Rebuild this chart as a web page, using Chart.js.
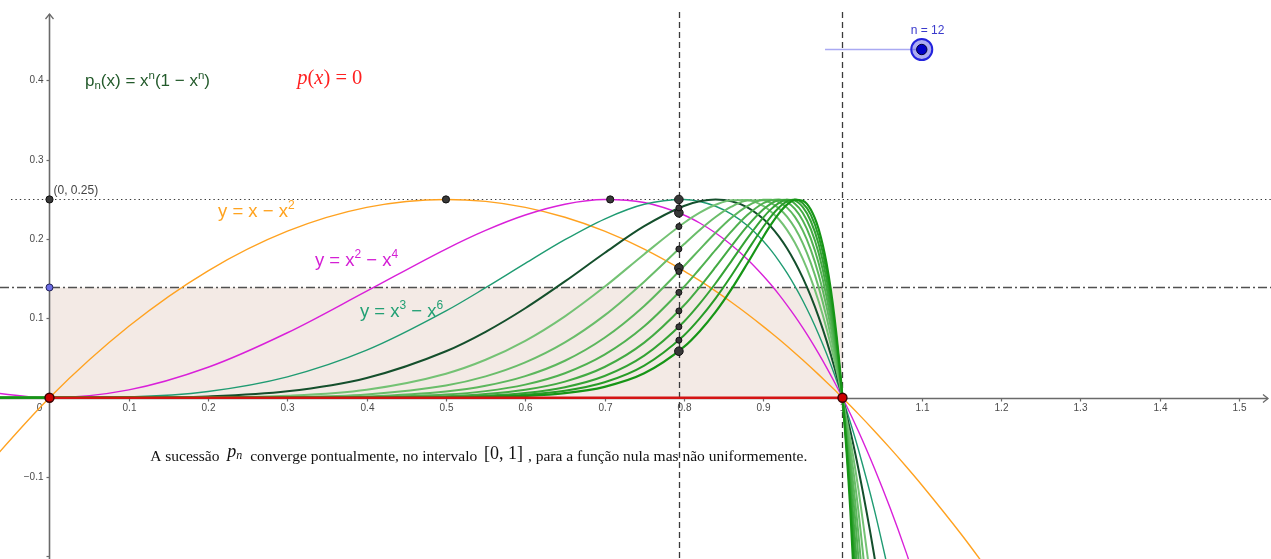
<!DOCTYPE html>
<html>
<head>
<meta charset="utf-8">
<title>pn(x) = x^n(1 - x^n)</title>
<script src="https://cdn.jsdelivr.net/npm/chart.js@4/dist/chart.umd.min.js"></script>
<style>
  html, body { margin: 0; padding: 0; background: #ffffff; overflow: hidden; }
  #c { display: block; }
</style>
</head>
<body>
<canvas id="c" width="1271" height="559"></canvas>
<script>
// Sample abscissae shared by every curve
const xs = [-0.1, 0, 0.1, 0.2, 0.3, 0.4, 0.5, 0.55, 0.6, 0.65, 0.7, 0.75, 0.8, 0.82, 0.84, 0.86, 0.88,
            0.9, 0.91, 0.92, 0.93, 0.94, 0.95, 0.96, 0.97, 0.98, 0.99, 1.0, 1.01, 1.02, 1.04, 1.06,
            1.08, 1.1, 1.15, 1.2];

// p_n(x) = x^n (1 - x^n), sampled at xs (each list stops once the curve has left the view)
const p1 = [-0.11, 0, 0.09, 0.16, 0.21, 0.24, 0.25, 0.2475, 0.24, 0.2275, 0.21, 0.1875, 0.16, 0.1476, 0.1344,
            0.1204, 0.1056, 0.09, 0.0819, 0.0736, 0.0651, 0.0564, 0.0475, 0.0384, 0.0291, 0.0196, 0.0099, 0,
            -0.0101, -0.0204, -0.0416, -0.0636, -0.0864, -0.11, -0.1725, -0.24];
const p2 = [0.0099, 0, 0.0099, 0.0384, 0.0819, 0.1344, 0.1875, 0.2110, 0.2304, 0.2440, 0.2499, 0.2461, 0.2304,
            0.2203, 0.2077, 0.1926, 0.1747, 0.1539, 0.1424, 0.1300, 0.1168, 0.1029, 0.0880, 0.0723, 0.0556,
            0.0380, 0.0195, 0, -0.0205, -0.0420, -0.0883, -0.1389, -0.1941, -0.2541];
const p3 = [-0.001, 0, 0.001, 0.0079, 0.0263, 0.0599, 0.1094, 0.1387, 0.1693, 0.1992, 0.2253, 0.2439, 0.2499,
            0.2474, 0.2414, 0.2315, 0.2171, 0.1976, 0.1857, 0.1723, 0.1574, 0.1407, 0.1223, 0.1020, 0.0797,
            0.0553, 0.0288, 0, -0.0312, -0.0650, -0.1405, -0.2275];
const p4 = [0.0001, 0, 0.0001, 0.0016, 0.0080, 0.0249, 0.0586, 0.0831, 0.1128, 0.1466, 0.1825, 0.2163, 0.2418,
            0.2477, 0.2500, 0.2478, 0.2401, 0.2256, 0.2155, 0.2032, 0.1885, 0.1712, 0.1511, 0.1280, 0.1016,
            0.0716, 0.0379, 0, -0.0423, -0.0892, -0.1987, -0.3314];
const p5 = [0, 0, 0, 0.0003, 0.0024, 0.0101, 0.0303, 0.0478, 0.0717, 0.1026, 0.1398, 0.1810, 0.2203, 0.2333,
            0.2433, 0.2491, 0.2492, 0.2418, 0.2346, 0.2247, 0.2117, 0.1953, 0.1750, 0.1505, 0.1213, 0.0868,
            0.0466, 0, -0.0536, -0.1149, -0.2636];
const p6 = [0, 0, 0, 0.0001, 0.0007, 0.0041, 0.0154, 0.0269, 0.0445, 0.0697, 0.1038, 0.1463, 0.1934, 0.2116,
            0.2279, 0.2409, 0.2487, 0.2490, 0.2454, 0.2387, 0.2284, 0.2139, 0.1947, 0.1700, 0.1391, 0.1011,
            0.0551, 0, -0.0653, -0.1421, -0.3357];
const p7 = [0, 0, 0, 0, 0.0002, 0.0016, 0.0078, 0.0150, 0.0272, 0.0466, 0.0756, 0.1157, 0.1657, 0.1871, 0.2080,
            0.2269, 0.2417, 0.2495, 0.2497, 0.2467, 0.2397, 0.2280, 0.2107, 0.1868, 0.1551, 0.1145, 0.0633, 0,
            -0.0773, -0.1708, -0.4157];
const p8 = [0, 0, 0, 0, 0.0001, 0.0007, 0.0039, 0.0083, 0.0165, 0.0309, 0.0543, 0.0901, 0.1396, 0.1626, 0.1864,
            0.2097, 0.2303, 0.2452, 0.2491, 0.2498, 0.2465, 0.2380, 0.2233, 0.2010, 0.1695, 0.1270, 0.0713, 0,
            -0.0897, -0.2011, -0.5044];
const p9 = [0, 0, 0, 0, 0, 0.0003, 0.0019, 0.0046, 0.0100, 0.0203, 0.0387, 0.0694, 0.1162, 0.1395, 0.1649,
            0.1911, 0.2163, 0.2373, 0.2448, 0.2492, 0.2496, 0.2447, 0.2330, 0.2129, 0.1823, 0.1386, 0.0790, 0,
            -0.1025, -0.2332];
const p10 = [0, 0, 0, 0, 0, 0.0001, 0.0010, 0.0025, 0.0060, 0.0133, 0.0274, 0.0531, 0.0958, 0.1186, 0.1443,
             0.1723, 0.2009, 0.2271, 0.2378, 0.2457, 0.2497, 0.2485, 0.2402, 0.2228, 0.1936, 0.1495, 0.0865, 0,
             -0.1156, -0.2670];
const p11 = [0, 0, 0, 0, 0, 0, 0.0005, 0.0014, 0.0036, 0.0087, 0.0194, 0.0405, 0.0785, 0.1000, 0.1253, 0.1541,
             0.1850, 0.2153, 0.2288, 0.2399, 0.2475, 0.2500, 0.2453, 0.2309, 0.2036, 0.1596, 0.0937, 0,
             -0.1290, -0.3026];
const p12 = [0, 0, 0, 0, 0, 0, 0.0002, 0.0008, 0.0022, 0.0057, 0.0137, 0.0307, 0.0640, 0.0839, 0.1082, 0.1369,
             0.1692, 0.2027, 0.2185, 0.2325, 0.2434, 0.2494, 0.2484, 0.2373, 0.2124, 0.1689, 0.1007, 0,
             -0.1429, -0.3402];

// Values of p1..p12 on the vertical line x = 2^(-1/3)
const xMarker = 0.7937;
const markerY = [0.1637, 0.2331, 0.25, 0.2394, 0.2158, 0.1875, 0.1591, 0.1327, 0.1094, 0.0894, 0.0725, 0.0586];

// Maxima of p1, p2 and the point (0, 0.25)
const peakX = [0, 0.5, 0.7071];
const peakY = [0.25, 0.25, 0.25];

// Tolerance band height and the slider value
const epsilon = 0.139;
const nValue = 12;

// Axis ticks
const xTicks = [0.1, 0.2, 0.3, 0.4, 0.5, 0.6, 0.7, 0.8, 0.9, 1.0, 1.1, 1.2, 1.3, 1.4, 1.5];
const xTickLabels = ['0.1', '0.2', '0.3', '0.4', '0.5', '0.6', '0.7', '0.8', '0.9', '1', '1.1', '1.2', '1.3', '1.4', '1.5'];
const yTicks = [-0.2, -0.1, 0.1, 0.2, 0.3, 0.4];
const yTickLabels = ['', '\u22120.1', '0.1', '0.2', '0.3', '0.4'];

const X_MIN = -0.0624, X_MAX = 1.5404, Y_MIN = -0.2034, Y_MAX = 0.5015;

const curveColors = ['#ffa220', '#d920d9', '#1f9b72', '#144f2c',
  '#74c274', '#6abd6a', '#5db75d', '#50b150', '#43aa43', '#35a335', '#279c27', '#169516'];
const curveWidths = [1.4, 1.4, 1.4, 2, 2, 2, 2, 2, 2, 2, 2, 2.2];

const SANS = '"Liberation Sans", Arial, sans-serif';
const SERIF = '"Liberation Serif", "Times New Roman", serif';

const curveSets = [p1, p2, p3, p4, p5, p6, p7, p8, p9, p10, p11, p12].map((ys, i) => ({
  data: ys.map((y, k) => ({ x: xs[k], y })),
  showLine: true,
  borderColor: curveColors[i],
  borderWidth: curveWidths[i],
  pointRadius: 0,
  cubicInterpolationMode: 'monotone',
  fill: false,
  order: 20 - i
}));

const datasets = curveSets.concat([
  { // p(x) = 0 on [0, 1]
    data: [{ x: 0, y: 0 }, { x: 1, y: 0 }],
    showLine: true, borderColor: '#d41414', borderWidth: 2.6, pointRadius: 0, order: 4
  },
  { // end points of p(x) = 0
    data: [{ x: 0, y: 0 }, { x: 1, y: 0 }],
    showLine: false, pointRadius: 4.5, pointBackgroundColor: '#cc0000', pointBorderColor: '#3a0000',
    pointBorderWidth: 1.4, order: 1
  },
  { // values on x = 2^(-1/3)
    data: markerY.map(y => ({ x: xMarker, y })),
    showLine: false,
    pointRadius: markerY.map((_, i) => (i < 3 || i === markerY.length - 1) ? 4.3 : 3),
    pointBackgroundColor: '#383838', pointBorderColor: '#111111', pointBorderWidth: 1, order: 2
  },
  { // maxima
    data: peakX.map((x, i) => ({ x, y: peakY[i] })),
    showLine: false, pointRadius: 3.6, pointBackgroundColor: '#383838', pointBorderColor: '#111111',
    pointBorderWidth: 1, order: 2
  },
  { // (0, epsilon)
    data: [{ x: 0, y: epsilon }],
    showLine: false, pointRadius: 3.5, pointBackgroundColor: '#6d6de6', pointBorderColor: '#22225a',
    pointBorderWidth: 1, order: 2
  }
]);

function rich(ctx, x, y, parts, color) {
  ctx.fillStyle = color;
  ctx.textAlign = 'left';
  ctx.textBaseline = 'alphabetic';
  for (const p of parts) {
    ctx.font = p.f;
    ctx.fillText(p.t, x + (p.dx || 0), y + (p.dy || 0));
    x += ctx.measureText(p.t).width + (p.dx || 0);
  }
  return x;
}

// Shaded band, axes and guide lines, under the curves
const backdrop = {
  id: 'backdrop',
  beforeDatasetsDraw(chart) {
    const { ctx, chartArea: a } = chart;
    const sx = chart.scales.x, sy = chart.scales.y;
    const X = v => sx.getPixelForValue(v), Y = v => sy.getPixelForValue(v);
    const ox = Math.round(X(0)) + 0.5, oy = Math.round(Y(0)) + 0.5;
    ctx.save();

    // band 0 <= y <= epsilon over [0, 1]
    ctx.fillStyle = '#f3eae5';
    ctx.fillRect(X(0), Y(epsilon), X(1) - X(0), Y(0) - Y(epsilon));

    // axes
    ctx.strokeStyle = '#6a6a6a';
    ctx.lineWidth = 1.6;
    ctx.beginPath();
    ctx.moveTo(a.left, oy); ctx.lineTo(a.right - 3, oy);
    ctx.moveTo(ox, a.bottom); ctx.lineTo(ox, a.top + 14);
    ctx.stroke();
    ctx.lineWidth = 1.3;
    ctx.beginPath();
    ctx.moveTo(a.right - 8, oy - 4); ctx.lineTo(a.right - 3, oy); ctx.lineTo(a.right - 8, oy + 4);
    ctx.moveTo(ox - 4, a.top + 19); ctx.lineTo(ox, a.top + 14); ctx.lineTo(ox + 4, a.top + 19);
    ctx.stroke();

    // ticks and labels
    ctx.lineWidth = 1.2;
    ctx.fillStyle = '#4a4a4a';
    ctx.font = '10px ' + SANS;
    ctx.textAlign = 'center';
    ctx.textBaseline = 'middle';
    xTicks.forEach((v, i) => {
      const px = Math.round(X(v)) + 0.5;
      ctx.beginPath(); ctx.moveTo(px, oy); ctx.lineTo(px, oy + 3); ctx.stroke();
      ctx.fillText(xTickLabels[i], px, oy + 10);
    });
    ctx.fillText('0', ox - 10, oy + 10);
    ctx.textAlign = 'right';
    yTicks.forEach((v, i) => {
      const py = Math.round(Y(v)) + 0.5;
      ctx.beginPath(); ctx.moveTo(ox - 3, py); ctx.lineTo(ox, py); ctx.stroke();
      if (yTickLabels[i]) ctx.fillText(yTickLabels[i], ox - 6, py);
    });

    // horizontal dotted line y = 0.25
    ctx.strokeStyle = '#3a3a3a';
    ctx.lineWidth = 1.1;
    ctx.setLineDash([1.4, 3]);
    ctx.beginPath();
    ctx.moveTo(a.left + 11, Math.round(Y(0.25)) + 0.5); ctx.lineTo(a.right, Math.round(Y(0.25)) + 0.5);
    ctx.stroke();

    // dash-dot line y = epsilon
    ctx.strokeStyle = '#505050';
    ctx.lineWidth = 1.3;
    ctx.setLineDash([9, 3, 2, 3]);
    ctx.beginPath();
    ctx.moveTo(a.left, Math.round(Y(epsilon)) + 0.5); ctx.lineTo(a.right, Math.round(Y(epsilon)) + 0.5);
    ctx.stroke();

    // vertical dashed lines x = 2^(-1/3) and x = 1
    ctx.strokeStyle = '#3a3a3a';
    ctx.lineWidth = 1.3;
    ctx.setLineDash([6, 4]);
    ctx.beginPath();
    [xMarker, 1].forEach(v => {
      const px = Math.round(X(v)) + 0.5;
      ctx.moveTo(px, a.top + 12); ctx.lineTo(px, a.bottom);
    });
    ctx.stroke();
    ctx.restore();
  }
};

// Captions, formula labels and the slider
const overlay = {
  id: 'overlay',
  afterDatasetsDraw(chart) {
    const { ctx } = chart;
    const sx = chart.scales.x, sy = chart.scales.y;
    const X = v => sx.getPixelForValue(v), Y = v => sy.getPixelForValue(v);
    ctx.save();

    const L = '18.5px ' + SANS, S = '12px ' + SANS;
    rich(ctx, X(0.2125), Y(0.2283), [
      { t: 'y = x \u2212 x', f: L }, { t: '2', f: S, dy: -8 }], '#ffa31f');
    rich(ctx, X(0.3348), Y(0.166), [
      { t: 'y = x', f: L }, { t: '2', f: S, dy: -8 }, { t: ' \u2212 x', f: L }, { t: '4', f: S, dy: -8 }], '#d41fd4');
    rich(ctx, X(0.3915), Y(0.1021), [
      { t: 'y = x', f: L }, { t: '3', f: S, dy: -8 }, { t: ' \u2212 x', f: L }, { t: '6', f: S, dy: -8 }], '#22a074');

    const M = '17px ' + SANS, m = '11.5px ' + SANS;
    rich(ctx, X(0.0448), Y(0.393), [
      { t: 'p', f: M }, { t: 'n', f: m, dy: 3 }, { t: '(x) = x', f: M }, { t: 'n', f: m, dy: -7 },
      { t: '(1 \u2212 x', f: M }, { t: 'n', f: m, dy: -7 }, { t: ')', f: M }], '#235a2b');

    const RI = 'italic 20.5px ' + SERIF, RR = '20.5px ' + SERIF;
    rich(ctx, X(0.3125), Y(0.395), [
      { t: 'p', f: RI }, { t: '(', f: RR }, { t: 'x', f: RI }, { t: ') = 0', f: RR }], '#ff2020');

    ctx.font = '12px ' + SANS;
    ctx.fillStyle = '#444444';
    ctx.textBaseline = 'middle';
    ctx.textAlign = 'left';
    ctx.fillText('(0, 0.25)', X(0) + 4, Y(0.261));

    const T = '15.5px ' + SERIF;
    rich(ctx, X(0.127), Y(-0.08), [
      { t: 'A sucess\u00e3o ', f: T },
      { t: 'p', f: 'italic 18px ' + SERIF, dx: 4, dy: -4 },
      { t: 'n', f: 'italic 12px ' + SERIF, dy: -2 },
      { t: ' converge pontualmente, no intervalo ', f: T, dx: 4 },
      { t: '[0, 1]', f: '18px ' + SERIF, dx: 3, dy: -2 },
      { t: ' , para a fun\u00e7\u00e3o nula mas n\u00e3o uniformemente.', f: T, dx: 1 }], '#111111');

    // slider for n
    const y0 = Math.round(Y(0.4397)) + 0.5, xa = X(0.978), xb = X(1.1);
    ctx.strokeStyle = '#a9a9f2';
    ctx.lineWidth = 1.5;
    ctx.beginPath(); ctx.moveTo(xa, y0); ctx.lineTo(xb, y0); ctx.stroke();
    ctx.beginPath(); ctx.arc(xb, y0, 10.5, 0, Math.PI * 2);
    ctx.fillStyle = 'rgba(90, 90, 230, 0.5)'; ctx.fill();
    ctx.strokeStyle = '#2323dd'; ctx.lineWidth = 2; ctx.stroke();
    ctx.beginPath(); ctx.arc(xb, y0, 5.2, 0, Math.PI * 2);
    ctx.fillStyle = '#0000c8'; ctx.fill();
    ctx.strokeStyle = '#000033'; ctx.lineWidth = 1; ctx.stroke();
    ctx.font = '12px ' + SANS;
    ctx.fillStyle = '#3a3acc';
    ctx.textAlign = 'left';
    ctx.textBaseline = 'middle';
    ctx.fillText('n = ' + nValue, xb - 11, y0 - 18.5);
    ctx.restore();
  }
};

new Chart(document.getElementById('c').getContext('2d'), {
  type: 'scatter',
  data: { datasets },
  options: {
    responsive: false,
    animation: false,
    devicePixelRatio: 1,
    events: [],
    layout: { padding: 0, autoPadding: false },
    plugins: { legend: { display: false }, tooltip: { enabled: false } },
    scales: {
      x: { type: 'linear', min: X_MIN, max: X_MAX, display: false },
      y: { type: 'linear', min: Y_MIN, max: Y_MAX, display: false }
    }
  },
  plugins: [backdrop, overlay]
});
</script>
</body>
</html>
